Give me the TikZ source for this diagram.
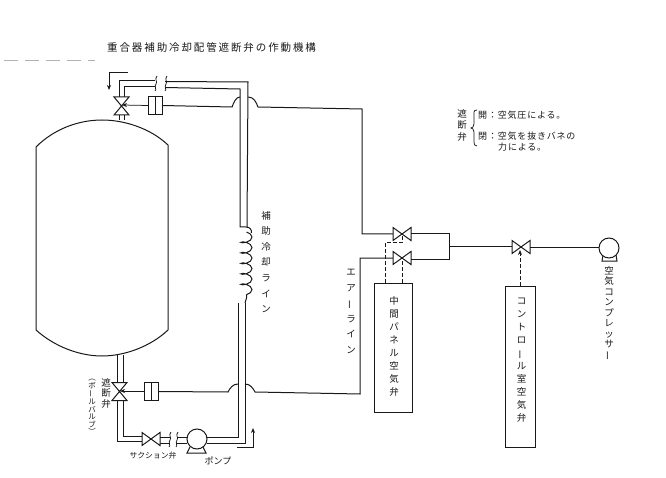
\documentclass[tikz,border=0pt]{standalone}
\usepackage{fontspec}
\setmainfont{Noto Sans CJK JP}
\usetikzlibrary{arrows.meta,decorations.pathmorphing}
\newcommand{\vbar}{\rotatebox[origin=c]{90}{ー}}
\tikzset{
  pipe/.style={draw=black!90,line width=1pt},
  thin pipe/.style={draw=black!90,line width=0.75pt},
  air/.style={draw=black!90,line width=1pt,dash pattern=on 3.5pt off 2.5pt},
  vessel/.style={draw=black!90,line width=1pt},
  boxnode/.style={draw=black!90,line width=0.8pt,inner sep=0pt,minimum width=#1},
  vlab/.style n args={2}{font=\fontsize{#1}{#2}\selectfont,align=center,inner sep=0pt,text=black!90,anchor=north},
  hlab/.style={font=\fontsize{#1}{#1}\selectfont,inner sep=0pt,text=black!90},
  valveshape/.style={draw=black!90,line width=1pt,fill=white},
  tip/.style={-{Stealth[length=5pt,width=4pt]}}
}
\newcommand{\hvalve}[2]{%
  \draw[valveshape] (#1-9,#2-6.5) -- (#1+9,#2+6.5) -- (#1+9,#2-6.5) -- (#1-9,#2+6.5) -- cycle;}
\newcommand{\vvalve}[2]{%
  \draw[valveshape] (#1-7.5,#2-9) -- (#1+7.5,#2+9) -- (#1-7.5,#2+9) -- (#1+7.5,#2-9) -- cycle;}
\newcommand{\cylinder}[2]{%
  \draw[pipe,fill=white] (#1-7,#2-9) rectangle (#1+7,#2+9) (#1,#2-9) -- (#1,#2+9);}
\begin{document}
\begin{tikzpicture}[x=1pt,y=-1pt]
\useasboundingbox (0,0) rectangle (666,478);
\fill[white] (0,0) rectangle (666,478);
% title
\node[hlab=10.5,anchor=west] (title) at (107,48) {\addfontfeatures{LetterSpace=18}重合器補助冷却配管遮断弁の作動機構};
\draw[black!30,line width=0.5pt,dash pattern=on 14pt off 7pt] (4,60) -- (95,60);
% vessel
\draw[vessel] (36,330) -- (36,147) .. controls (55,128) and (80,120) .. (102,120) .. controls (124,120) and (150,128) .. (168,145) -- (168,330)
  .. controls (150,347) and (124,356) .. (102,356) .. controls (80,356) and (55,347) .. (36,330);
% top piping
\draw[pipe] (119,98) -- (119,81) -- (155,81);
\draw[pipe] (124.5,98) -- (124.5,87) -- (155,87);
\draw[pipe] (119,120) -- (119,115) (124.5,120) -- (124.5,115);
\vvalve{121.5}{106}
\draw[pipe] (165,81.5) -- (248,82) -- (247,227);
\draw[pipe] (165,87.5) -- (240,89) -- (240,227) -- (246,227);
\draw[thin pipe] (157,76) .. controls (154,79) and (158,82) .. (156,84) .. controls (154,86) and (157,90) .. (155,91);
\draw[thin pipe] (167,76) .. controls (164,79) and (168,82) .. (166,84) .. controls (164,86) and (167,90) .. (165,91);
\coordinate (arT) at (128,72);
\coordinate (arB) at (109,90);
\draw[thin pipe,tip] (arT) -- (109,72) -- (arB);
\cylinder{155}{105.5}
\coordinate (tvi) at (122,105);
\draw[thin pipe,tip] (148,105.5) -- (tvi);
\draw[pipe] (162,105.5) -- (232,107) .. controls (234,102) and (236,97) .. (240,97);
\draw[pipe] (248,97) .. controls (254,97) and (256,102) .. (258,107) -- (362,109) -- (362,234) -- (393,234);
% coil
\draw[pipe] (246,227) .. controls (250,227) and (252,230) .. (251.5,233);
\draw[pipe,decorate,decoration={coil,amplitude=5.5pt,segment length=10.5pt,aspect=0.45}] (246.5,232) -- (246.5,298);
\draw[pipe] (246.5,298) -- (245,303);
% lower piping
\draw[pipe] (238,303) -- (238,437) -- (207,437);
\draw[pipe] (245,303) -- (245,443) -- (207,443);
\draw[thin pipe,tip] (237,447) -- (253,447) -- (253,428);
% bottom vessel nozzle and valve
\draw[pipe] (117,355) -- (117,382) (123,355) -- (123,382);
\vvalve{119.5}{391.5}
\draw[pipe] (117,401) -- (117,441) -- (142,441);
\draw[pipe] (123,401) -- (123,436) -- (142,436);
\cylinder{151}{391.5}
\coordinate (bvi) at (120,391);
\draw[thin pipe,tip] (144,391) -- (bvi);
\draw[pipe] (158,391.5) -- (228,392) .. controls (230,388) and (233,384) .. (238,384);
\draw[pipe] (245,384) .. controls (250,384) and (253,388) .. (255,392) -- (360,394) -- (360,258) -- (393,258);
% suction valve
\hvalve{151}{439}
\draw[pipe] (160,437) -- (170,437) (160,443) -- (170,443) (177,437) -- (187,437) (177,443) -- (187,443);
\draw[thin pipe] (171,432) .. controls (168,435) and (172,438) .. (170,440) .. controls (168,442) and (171,446) .. (169,447);
\draw[thin pipe] (178,432) .. controls (175,435) and (179,438) .. (177,440) .. controls (175,442) and (178,446) .. (176,447);
% pump
\draw[pipe] (190,447) -- (187,453) -- (206,453) -- (203,447);
\draw[pipe,fill=white] (197,439) circle (10);
% air valves
\hvalve{402}{234}
\hvalve{402}{258}
\draw[pipe] (411,259) -- (449,259) -- (449,234) -- (411,234);
\draw[pipe] (449,247) -- (512,247);
\hvalve{521}{247}
\draw[pipe] (530,248) -- (599,248);
% compressor
\draw[pipe] (603,255) -- (602,261) -- (617,261) -- (616,255);
\draw[pipe,fill=white] (609,248) circle (10);
% air control boxes
\node[boxnode=38,minimum height=129] (b1) at (393,347.5) {};
\node[boxnode=30,minimum height=161] (b2) at (520,366.5) {};
\coordinate (d1) at (402,258);
\coordinate (d2) at (402,234);
\coordinate (d3) at (520,250);
\draw[air] (b1.north -| d1) -- (d1);
\draw[air] (b1.north -| 385,0) -- (385,243) -- (402,243) -- (d2);
\draw[air,tip] (b2.north -| d3) -- (d3);
% vertical labels
\node[vlab={9.5}{15.6}] (l1) at (266,211) {補\\助\\冷\\却\\ラ\\イ\\ン};
\node[vlab={9.5}{15.6}] (l2) at (351,269) {エ\\ア\\\vbar\\ラ\\イ\\ン};
\node[vlab={9.5}{13}] (l3) at (394,296) {中\\間\\パ\\ネ\\ル\\空\\気\\弁};
\node[vlab={9.5}{13}] (l4) at (521.5,298) {コ\\ン\\ト\\ロ\\\vbar\\ル\\室\\空\\気\\弁};
\node[vlab={9.5}{10.5}] (l5) at (609,266) {空\\気\\コ\\ン\\プ\\レ\\ッ\\サ\\\vbar};
\node[vlab={9.5}{10.5}] (l6) at (106,378) {遮\\断\\弁};
\node[vlab={7.5}{7.6}] (l7) at (92,379) {︵\\ボ\\\vbar\\ル\\バ\\ル\\ブ\\︶};
\node[vlab={9.5}{11.5}] (l8) at (462,109) {遮\\断\\弁};
% horizontal labels
\node[hlab=7.8] (h1) at (153,456) {サクション弁};
\node[hlab=9] (h2) at (218,461) {ポンプ};
\node[hlab=9,anchor=west] (h3) at (478,115) {\addfontfeatures{LetterSpace=9}開：空気圧による。};
\node[hlab=9,anchor=west] (h4) at (478,136) {\addfontfeatures{LetterSpace=9}閉：空気を抜きバネの};
\node[hlab=9,anchor=west] (h5) at (498,147) {\addfontfeatures{LetterSpace=9}力による。};
% legend brace
\draw[thin pipe] (477,110) .. controls (473,110) and (474,113) .. (474,118) -- (474,124) .. controls (474,127) and (472,128) .. (471,128) .. controls (472,128) and (474,129) .. (474,132) -- (474,141) .. controls (474,145) and (475,146) .. (477,146);
\end{tikzpicture}
\end{document}
